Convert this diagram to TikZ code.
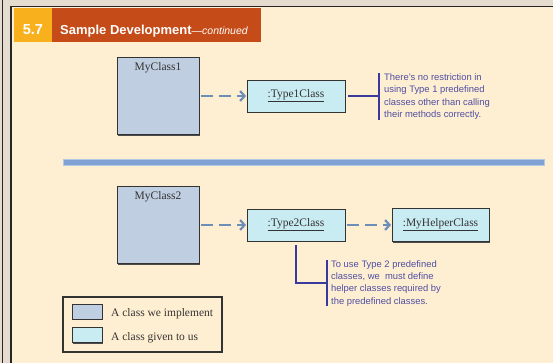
\documentclass[tikz,border=0pt]{standalone}
\usepackage{fontspec}
\setmainfont{Liberation Serif}
\setsansfont{Liberation Sans}
\usetikzlibrary{arrows.meta,shadows}
\definecolor{cream}{HTML}{FFEFD2}
\definecolor{framebg}{HTML}{E5DCCF}
\definecolor{hdrorange}{HTML}{F8B01C}
\definecolor{hdrred}{HTML}{C54B18}
\definecolor{implblue}{HTML}{BFCEE0}
\definecolor{givencyan}{HTML}{C9EBF2}
\definecolor{dashblue}{HTML}{6E8EB8}
\definecolor{notedark}{HTML}{3A3A9E}
\definecolor{notetext}{HTML}{4E4EA3}
\definecolor{sepblue}{HTML}{7FA1D3}
\definecolor{boxtext}{HTML}{333333}
\begin{document}
\begin{tikzpicture}[x=1pt,y=-1pt,
  box/.style={draw=black!80, line width=0.9pt, inner sep=0pt,
    drop shadow={shadow xshift=1.3pt, shadow yshift=-1.3pt, opacity=1, fill=black!70}},
  impl/.style={box, fill=implblue},
  given/.style={box, fill=givencyan, font=\fontsize{11.5}{13}\selectfont, text=boxtext},
  boxlabel/.style={font=\fontsize{11.5}{13}\selectfont, text=boxtext, inner sep=0pt},
  uses/.style={draw=dashblue, line width=2.2pt, dash pattern=on 12pt off 6pt,
    -{Straight Barb[length=4.5pt, width=10pt]}},
  noteline/.style={draw=notedark, line width=2pt},
  notetxt/.style={font=\sffamily\fontsize{9.4}{12.4}\selectfont, text=notetext,
    align=left, inner sep=0pt, anchor=north west},
  legtxt/.style={font=\fontsize{11.5}{13}\selectfont, text=boxtext, inner sep=0pt, anchor=base west},
]
\useasboundingbox (0,0) rectangle (553,363);
% frame
\fill[framebg] (0,0) rectangle (553,363);
\fill[cream] (12,7) rectangle (553,363);
\draw[black!85, line width=1pt] (2.5,0) -- (2.5,363);
\draw[black!85, line width=1.4pt] (11,363) -- (11,6.3) -- (553,6.3);
% header
\node[fill=hdrorange, minimum width=38pt, minimum height=34pt, inner sep=0pt, anchor=north west] (hnum) at (14,8) {};
\node[fill=hdrred, minimum width=209pt, minimum height=34pt, inner sep=0pt, anchor=north west] (htitle) at (52,8) {};
\node[anchor=base west, inner sep=0pt, text=white, font=\sffamily\bfseries\fontsize{14.5}{16}\selectfont] (numtxt) at (22.7,35) {5.7};
\node[anchor=base west, inner sep=0pt, text=white] (titletxt) at (60,35)
  {\sffamily\bfseries\fontsize{13}{15}\selectfont Sample Development\mdseries\itshape\fontsize{10.5}{12}\selectfont —continued};
% top part
\node[impl, minimum width=82pt, minimum height=77pt,
  label={[boxlabel, anchor=north, yshift=-5.5pt]north:MyClass1}] (m1) at (158,96) {};
\node[given, minimum width=98pt, minimum height=32pt] (t1) at (296,96) {\underline{:Type1Class}};
\draw[uses, shorten <=1.5pt, shorten >=0.5pt] (m1.east) -- (t1.west);
\node[notetxt] (n1) at (384,73.5) {There's no restriction in\\using Type 1 predefined\\classes other than calling\\their methods correctly.};
\draw[noteline] ([xshift=-5pt]n1.north west) -- ([xshift=-5pt]n1.south west);
\draw[noteline, shorten <=3pt] (t1.east) -- ([xshift=-5pt]n1.west |- t1.east);
% separator
\fill[sepblue, draw=sepblue!60!white, line width=0.4pt] (63.5,159) rectangle (544,165);
% bottom part
\node[impl, minimum width=82pt, minimum height=77pt,
  label={[boxlabel, anchor=north, yshift=-5.5pt]north:MyClass2}] (m2) at (158,225) {};
\node[given, minimum width=98pt, minimum height=32pt] (t2) at (296,225) {\underline{:Type2Class}};
\node[given, minimum width=97pt, minimum height=33pt] (h) at (440.5,225) {\underline{:MyHelperClass}};
\draw[uses, shorten <=1.5pt, shorten >=0.5pt] (m2.east) -- (t2.west);
\draw[uses, shorten <=1.5pt, shorten >=0.5pt] (t2.east) -- (h.west);
\node[notetxt] (n2) at (331,260) {To use Type 2 predefined\\classes, we\ \ must define\\helper classes required by\\the predefined classes.};
\draw[noteline] ([xshift=-4pt]n2.north west) -- ([xshift=-4pt]n2.south west);
\draw[noteline, shorten <=4pt] (t2.south) |- ([xshift=-4pt]n2.west);
% legend
\node[draw=black!80, line width=1.2pt, minimum width=159pt, minimum height=55pt, inner sep=0pt] (lg) at (142.5,324.5) {};
\node[impl, minimum width=30pt, minimum height=15pt] (s1) at (87,311.5) {};
\node[given, minimum width=30pt, minimum height=15pt] (s2) at (87,335) {};
\node[legtxt] (l1) at (111,316.5) {A class we implement};
\node[legtxt] (l2) at (111,340.5) {A class given to us};
\end{tikzpicture}
\end{document}
